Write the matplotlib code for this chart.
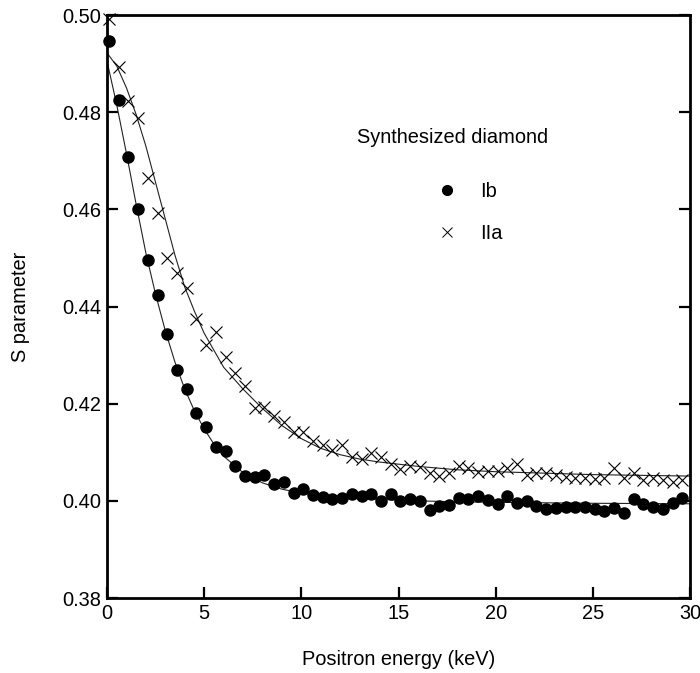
import matplotlib
matplotlib.use("Agg")
import matplotlib.pyplot as plt
from matplotlib.lines import Line2D

plt.rcParams['font.family'] = ['Liberation Sans', 'DejaVu Sans']

# measured points, 0.5 keV steps
energy = [0.1 + 0.5 * i for i in range(60)]

s_ib = [0.4947, 0.4825, 0.4708, 0.4601, 0.4496, 0.4424, 0.4343, 0.4269, 0.4230, 0.4180,
        0.4152, 0.4111, 0.4102, 0.4072, 0.4051, 0.4049, 0.4053, 0.4035, 0.4039, 0.4016,
        0.4024, 0.4012, 0.4008, 0.4004, 0.4006, 0.4014, 0.4010, 0.4014, 0.4000, 0.4014,
        0.4000, 0.4004, 0.4000, 0.3981, 0.3990, 0.3991, 0.4006, 0.4004, 0.4010, 0.4002,
        0.3993, 0.4010, 0.3996, 0.4000, 0.3989, 0.3983, 0.3985, 0.3987, 0.3987, 0.3987,
        0.3983, 0.3979, 0.3985, 0.3975, 0.4004, 0.3993, 0.3987, 0.3983, 0.3996, 0.4006]

s_iia = [0.4992, 0.4893, 0.4823, 0.4788, 0.4665, 0.4593, 0.4500, 0.4470, 0.4438, 0.4374,
         0.4320, 0.4347, 0.4296, 0.4264, 0.4237, 0.4191, 0.4193, 0.4175, 0.4163, 0.4142,
         0.4142, 0.4123, 0.4115, 0.4105, 0.4115, 0.4090, 0.4086, 0.4098, 0.4090, 0.4076,
         0.4065, 0.4072, 0.4070, 0.4057, 0.4051, 0.4057, 0.4072, 0.4067, 0.4059, 0.4061,
         0.4061, 0.4067, 0.4076, 0.4053, 0.4057, 0.4057, 0.4053, 0.4049, 0.4047, 0.4047,
         0.4045, 0.4047, 0.4067, 0.4047, 0.4057, 0.4043, 0.4047, 0.4043, 0.4039, 0.4043]

# fitted curves
fit_e_ib = [0, 0.5, 1.0, 1.5, 2.0, 2.5, 3.0, 3.5, 4.0, 4.5, 5.0, 5.5, 6.0, 7.0, 8.0, 9.0,
            10, 12, 14, 16, 18, 20, 25, 30]
fit_s_ib = [0.4905, 0.4815, 0.4715, 0.4610, 0.4510, 0.4425, 0.4350, 0.4285, 0.4230, 0.4185,
            0.4148, 0.4117, 0.4092, 0.4058, 0.4037, 0.4024, 0.4016, 0.4007, 0.4003, 0.4000,
            0.3998, 0.3997, 0.3995, 0.3994]

fit_e_iia = [0, 0.5, 1.0, 1.5, 2.0, 2.5, 3.0, 3.5, 4.0, 4.5, 5.0, 5.5, 6.0, 7.0, 8.0, 9.0,
             10, 11, 12, 13, 14, 16, 18, 20, 25, 30]
fit_s_iia = [0.4922, 0.4895, 0.4850, 0.4795, 0.4730, 0.4655, 0.4580, 0.4505, 0.4440, 0.4390,
             0.4345, 0.4310, 0.4275, 0.4230, 0.4190, 0.4155, 0.4128, 0.4108, 0.4095, 0.4086,
             0.4080, 0.4071, 0.4064, 0.4060, 0.4054, 0.4051]

fig = plt.figure(figsize=(7, 6.73), dpi=100)
ax = fig.add_axes([0.1529, 0.1114, 0.8328, 0.8663])

ax.plot(fit_e_ib, fit_s_ib, color='#222222', linewidth=0.8)
ax.plot(fit_e_iia, fit_s_iia, color='#222222', linewidth=0.8)
ax.plot(energy, s_ib, linestyle='none', marker='o', markersize=8,
        color='black', clip_on=False)
ax.plot(energy, s_iia, linestyle='none', marker='x', markersize=9,
        markeredgewidth=0.8, color='black', clip_on=False)

ax.set_xlim(0, 30)
ax.set_ylim(0.38, 0.50)
ax.set_xticks([0, 5, 10, 15, 20, 25, 30])
ax.set_yticks([0.38, 0.40, 0.42, 0.44, 0.46, 0.48, 0.50])
ax.set_yticklabels(['0.38', '0.40', '0.42', '0.44', '0.46', '0.48', '0.50'])

for sp in ax.spines.values():
    sp.set_linewidth(2)
ax.tick_params(direction='in', length=8, width=1.6, labelsize=14.4, pad=4,
               right=True, top=False)

ax.set_xlabel('Positron energy (keV)', fontsize=14.4, labelpad=20)
ax.set_ylabel('S parameter', fontsize=14.4, labelpad=23)

ax.text(0.4288, 0.7907, 'Synthesized diamond', transform=ax.transAxes,
        fontsize=14.4, va='center', ha='left')

handles = [Line2D([], [], linestyle='none', marker='o', markersize=7, color='black'),
           Line2D([], [], linestyle='none', marker='x', markersize=7,
                  markeredgewidth=0.7, color='black')]
ax.legend(handles, ['Ib', 'IIa'], loc='upper left', bbox_to_anchor=(0.566, 0.713),
          frameon=False, fontsize=14.4, handlelength=1.0, handletextpad=1.15,
          labelspacing=1.15, borderpad=0, borderaxespad=0)

fig.savefig('out.png', dpi=100)
